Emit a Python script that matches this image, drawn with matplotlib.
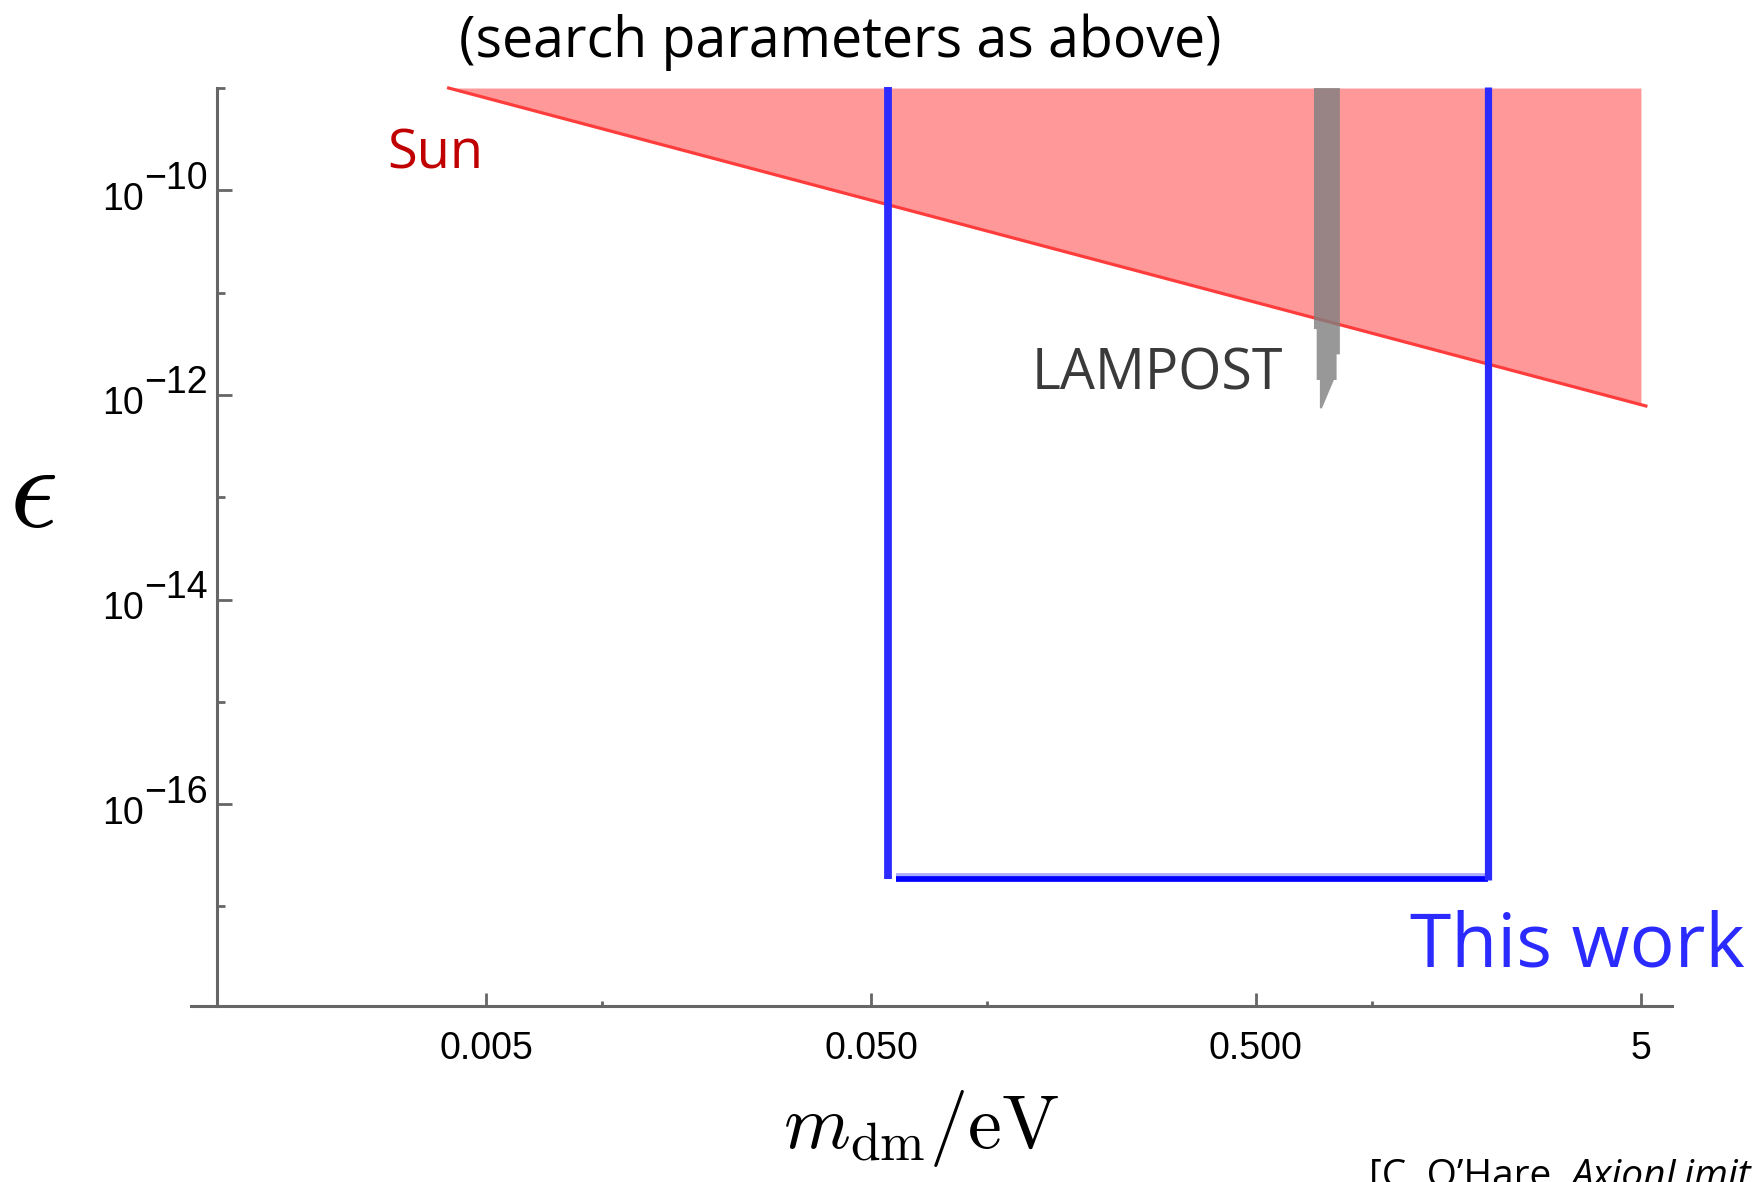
import matplotlib
matplotlib.use("Agg")
import matplotlib.pyplot as plt
import matplotlib.patheffects as pe
from matplotlib.ticker import NullFormatter

# dark photon DM mass (eV) vs kinetic mixing epsilon
sun_mass = [0.004, 5.0]
sun_eps = [1.0e-9, 8.0e-13]
sun_edge_mass = [0.004, 5.15]
sun_edge_eps = [1.0e-9, 7.8e-13]
sun_top = 1.0e-9

lampost_mass = [0.7075, 0.7075, 0.719, 0.719, 0.733, 0.733, 0.742, 0.797,
                0.810, 0.810, 0.826, 0.826]
lampost_eps = [1.0e-9, 4.4e-12, 4.4e-12, 1.4e-12, 1.4e-12, 7.4e-13, 7.4e-13,
               1.4e-12, 1.4e-12, 2.49e-12, 2.49e-12, 1.0e-9]

box_mass = [0.0553, 2.0]      # "This work" mass range
box_eps = [1.85e-17, 1.03e-9]  # reach / top of plot

xticks_major = [0.005, 0.05, 0.5, 5]
xtick_labels = ["0.005", "0.050", "0.500", "5"]
xticks_minor = [0.01, 0.1, 1]
yticks_major = [1e-10, 1e-12, 1e-14, 1e-16]
ytick_exponents = ["\u221210", "\u221212", "\u221214", "\u221216"]
yticks_minor = [1e-9, 1e-11, 1e-13, 1e-15, 1e-17]

plt.rcParams["font.family"] = ["Open Sans", "DejaVu Sans"]
plt.rcParams["mathtext.fontset"] = "cm"

axis_grey = "#666666"
blue = "#2b2bff"

fig = plt.figure(figsize=(17.52, 11.82), dpi=100)
ax = fig.add_axes([0.1090, 0.14915, 0.84532, 0.78147])
ax.set_xscale("log")
ax.set_yscale("log")
ax.set_xlim(8.566e-4, 6.02)
ax.set_ylim(1.07e-18, 1.145e-9)

# Sun bound
ax.fill_between(sun_mass, sun_eps, sun_top, color="#ff9898", lw=0, zorder=1)
ax.plot(sun_edge_mass, sun_edge_eps, color="#ff3c3c", lw=2.3, zorder=2)

# LAMPOST
ax.fill(lampost_mass, lampost_eps, color="#7f7f7f", alpha=0.8, lw=0, zorder=3)

# this work: open box
ax.plot([box_mass[0], box_mass[0]], [box_eps[1], box_eps[0]], color=blue,
        lw=5.6, solid_capstyle="butt", zorder=5)
ax.plot([box_mass[1], box_mass[1]], [box_eps[1], box_eps[0] * 0.97], color=blue,
        lw=5.2, solid_capstyle="butt", zorder=5)
ax.plot([box_mass[0] * 1.05, box_mass[1]], [box_eps[0], box_eps[0]], color="#0000ff",
        lw=4.1, solid_capstyle="butt", zorder=4,
        path_effects=[pe.Stroke(linewidth=4.1, foreground="#aaaaff", offset=(0, 1.9)),
                      pe.Normal()])

# Mathematica style axes
for s in ["top", "right"]:
    ax.spines[s].set_visible(False)
ax.spines["left"].set_position(("data", 0.001))
ax.spines["left"].set_bounds(1.07e-18, 1.0e-9)
for s in ["left", "bottom"]:
    ax.spines[s].set_color(axis_grey)
    ax.spines[s].set_linewidth(2.2)

ax.set_xticks(xticks_major)
ax.set_xticklabels(xtick_labels, fontfamily="Liberation Sans", fontsize=27)
ax.set_xticks(xticks_minor, minor=True)
ax.xaxis.set_minor_formatter(NullFormatter())
ax.set_yticks(yticks_major)
ax.set_yticks(yticks_minor, minor=True)
ax.yaxis.set_minor_formatter(NullFormatter())

ax.tick_params(axis="x", which="major", direction="in", length=9.6, width=2,
               color=axis_grey, pad=18.5, labelcolor="black")
ax.tick_params(axis="x", which="minor", direction="in", length=3.9, width=2, color=axis_grey)
ax.tick_params(axis="y", which="major", direction="in", length=10.8, width=2,
               color=axis_grey, labelleft=False)
ax.tick_params(axis="y", which="minor", direction="in", length=5.4, width=2, color=axis_grey)

# y labels as 10 with a full-size exponent, like the original
for v, e in zip(yticks_major, ytick_exponents):
    ax.annotate("10", xy=(0.001, v), xytext=(-73, -19.4), textcoords="offset pixels",
                ha="right", va="baseline", fontsize=27, family="Liberation Sans")
    ax.annotate(e, xy=(0.001, v), xytext=(-73, 1.6), textcoords="offset pixels",
                ha="left", va="baseline", fontsize=27, family="Liberation Sans")

# region labels
ax.text(0.00277, 1.64e-10, "Sun", color="#c00000", fontsize=39, ha="left", va="baseline")
ax.text(0.131, 1.135e-12, "LAMPOST", color="#3a3a3a", fontsize=40, ha="left", va="baseline")
ax.text(1.256, 2.58e-18, "This work", color=blue, fontsize=54, ha="left", va="baseline")

fig.text(0.4795, 0.9518, "(search parameters as above)", fontsize=40,
         ha="center", va="baseline")
fig.text(0.0185, 0.58, r"$\epsilon$", fontsize=86, ha="center", va="center")
fig.text(0.5257, 0.02876, r"$m_{\rm dm}/{\rm eV}$", fontsize=55, ha="center", va="baseline")

cite = fig.text(0.7814, -0.011, "[C. O\u2019Hare, ", fontsize=28, ha="left", va="bottom")
ax.annotate("AxionLimits]", xy=(1, 0), xycoords=cite, ha="left", va="bottom",
            fontsize=28, style="italic", annotation_clip=False)

fig.savefig("out.png", dpi=100)
